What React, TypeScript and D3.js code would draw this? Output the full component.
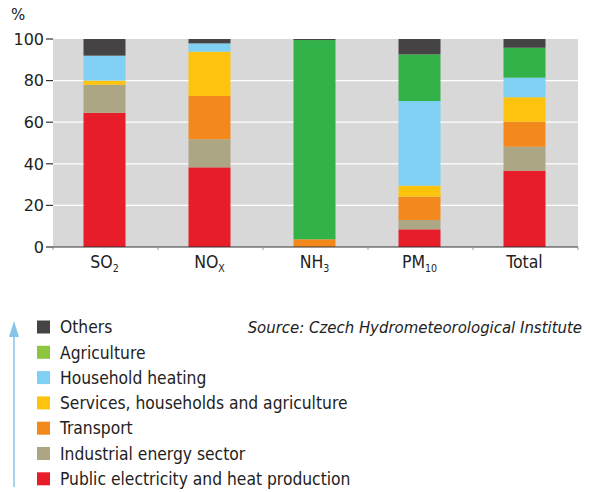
import React from "react";
import * as d3 from "d3";

const categories = ["SO2", "NOx", "NH3", "PM10", "Total"];
const catMain = ["SO", "NO", "NH", "PM", "Total"];
const catSub = ["2", "X", "3", "10", ""];
const sectors = [
  "Public electricity and heat production",
  "Industrial energy sector",
  "Transport",
  "Services, households and agriculture",
  "Household heating",
  "Agriculture",
  "Others",
];
const barColors = ["#e81d2a", "#aca684", "#f3891c", "#fdc30d", "#80d0f3", "#34b24a", "#464345"];
const legendColors = ["#e81d2a", "#aca684", "#f3891c", "#fdc30d", "#80d0f3", "#8cc63f", "#464345"];
// values per sector, in category order
const publicElec = [64.5, 38.3, 0, 8.5, 36.7];
const industrial = [13.5, 13.5, 0, 4.5, 11.5];
const transport = [0, 20.8, 3.7, 11.2, 12.0];
const services = [2.0, 21.3, 0, 5.3, 11.8];
const household = [12.0, 4.0, 0, 40.7, 9.4];
const agriculture = [0, 0, 95.8, 22.4, 14.4];
const others = [8.0, 2.1, 0.5, 7.4, 4.2];
const seriesValues = [publicElec, industrial, transport, services, household, agriculture, others];
const yTicks = [0, 20, 40, 60, 80, 100];

const FONT = "'DejaVu Sans Condensed', 'DejaVu Sans', sans-serif";

export default function App() {
  const left = 53, right = 578, top = 39, bottom = 247;
  const x = d3.scaleBand<string>().domain(categories).range([left, right]).padding(0);
  const y = d3.scaleLinear().domain([0, 100]).range([bottom, top]);
  const barW = x.bandwidth() * 0.4;

  const rows = categories.map((c, i) => {
    const obj: any = { cat: c };
    sectors.forEach((s, j) => (obj[s] = seriesValues[j][i]));
    return obj;
  });
  const stacked = d3.stack<any>().keys(sectors)(rows);

  const legendOrder = [6, 5, 4, 3, 2, 1, 0];
  const legendY0 = 327;
  const legendStep = 25.3;

  return (
    <svg width={590} height={492} style={{ position: "absolute", left: 0, top: 0, background: "#fff" }} fontFamily={FONT}>
      <rect x={left} y={top} width={right - left} height={bottom - top} fill="#d9d8d9" />
      {yTicks.filter((t) => t > 0 && t < 100).map((t) => (
        <line key={t} x1={left} x2={right} y1={y(t)} y2={y(t)} stroke="#fff" strokeWidth={1.2} />
      ))}
      {stacked.map((layer, j) => (
        <g key={sectors[j]} fill={barColors[j]}>
          {layer.map((d, i) => (
            <rect
              key={i}
              x={(x(categories[i]) as number) + x.bandwidth() / 2 - barW / 2 - 1}
              y={y(d[1])}
              width={barW}
              height={Math.max(0, y(d[0]) - y(d[1]))}
            />
          ))}
        </g>
      ))}
      <line x1={left} x2={right} y1={bottom} y2={bottom} stroke="#333" strokeWidth={1.2} />
      {categories.map((c) => (
        <line key={c} x1={x(c) as number} x2={x(c) as number} y1={bottom} y2={bottom + 3} stroke="#999" strokeWidth={1} />
      ))}
      <line x1={right} x2={right} y1={bottom} y2={bottom + 3} stroke="#999" strokeWidth={1} />
      {yTicks.map((t) => (
        <g key={t}>
          <line x1={left - 7} x2={left} y1={y(t)} y2={y(t)} stroke="#333" strokeWidth={1.2} />
          <text x={left - 9} y={y(t)} dy="0.36em" textAnchor="end" fontSize={16} fontFamily="'DejaVu Sans', sans-serif" fill="#222">
            {t}
          </text>
        </g>
      ))}
      <text x={11} y={20} fontSize={15} fontFamily="'DejaVu Sans', sans-serif" fill="#222">%</text>
      {categories.map((c, i) => (
        <text key={c} x={(x(c) as number) + x.bandwidth() / 2 - 1} y={268} textAnchor="middle" fontSize={17.5} fill="#222">
          {catMain[i]}
          {catSub[i] && (
            <tspan fontSize={10.5} dy={4}>{catSub[i]}</tspan>
          )}
        </text>
      ))}
      {/* arrow */}
      <line x1={14} x2={14} y1={335} y2={487} stroke="#86c5e6" strokeWidth={1.5} />
      <path d="M14,321 L9,337 L19,337 Z" fill="#86c5e6" />
      {legendOrder.map((j, k) => (
        <g key={sectors[j]}>
          <rect x={37} y={legendY0 + k * legendStep - 6.5} width={13} height={13} fill={legendColors[j]} />
          <text x={60} y={legendY0 + k * legendStep} dy="0.36em" fontSize={17.3} fill="#222">
            {sectors[j]}
          </text>
        </g>
      ))}
      <text x={582} y={legendY0} dy="0.36em" textAnchor="end" fontSize={16.6} fontStyle="italic" fill="#222">
        Source: Czech Hydrometeorological Institute
      </text>
    </svg>
  );
}
